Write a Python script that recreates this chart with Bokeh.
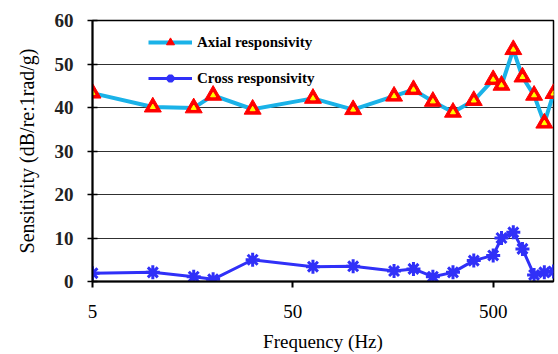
from bokeh.plotting import figure
from bokeh.models import Range1d, FixedTicker, Legend, LegendItem, NumeralTickFormatter
from bokeh.embed import file_html
from bokeh.resources import INLINE

# Data
freq = [5, 10, 16, 20, 31.5, 63, 100, 160, 200, 250, 315, 400, 500, 550, 630, 700, 800, 900, 1000]
axial = [43.3, 40.1, 39.9, 42.8, 39.6, 42.1, 39.5, 42.6, 44.1, 41.4, 38.9, 41.6, 46.4, 45.1, 53.3, 47.0, 42.8, 36.4, 43.2]
cross = [1.9, 2.1, 1.1, 0.5, 5.0, 3.4, 3.5, 2.4, 2.9, 1.1, 2.1, 4.8, 6.0, 10.0, 11.3, 7.5, 1.5, 2.1, 2.3]
x_ticks = [5, 50, 500]
y_ticks = [0, 10, 20, 30, 40, 50, 60]
axial_label = "Axial responsivity"
cross_label = "Cross responsivity"

FONT = "Liberation Serif"

p = figure(width=558, height=354, x_axis_type="log",
           x_range=Range1d(5, 1000), y_range=Range1d(0, 60),
           output_backend="svg", toolbar_location=None,
           min_border_left=92, min_border_right=5, min_border_top=20, min_border_bottom=73)

p.background_fill_color = "white"
p.border_fill_color = "white"
p.outline_line_color = "black"
p.outline_line_width = 1.5

p.xgrid.grid_line_color = None
p.ygrid.grid_line_color = "#303030"
p.ygrid.grid_line_width = 1
p.ygrid.ticker = FixedTicker(ticks=y_ticks)

# x axis
p.xaxis.ticker = FixedTicker(ticks=x_ticks)
p.xaxis.formatter = NumeralTickFormatter(format="0")
p.xaxis.minor_tick_line_color = None
p.xaxis.major_tick_in = 0
p.xaxis.major_tick_out = 6
p.xaxis.major_tick_line_width = 2
p.xaxis.axis_line_width = 2
p.xaxis.major_label_text_font = FONT
p.xaxis.major_label_text_font_size = "19px"
p.xaxis.major_label_text_color = "black"
p.xaxis.major_label_standoff = 17
p.xaxis.axis_label = "Frequency (Hz)"
p.xaxis.axis_label_text_font = FONT
p.xaxis.axis_label_text_font_size = "19px"
p.xaxis.axis_label_text_font_style = "normal"
p.xaxis.axis_label_text_color = "black"
p.xaxis.axis_label_standoff = 10

# y axis
p.yaxis.ticker = FixedTicker(ticks=y_ticks)
p.yaxis.minor_tick_line_color = None
p.yaxis.major_tick_in = 5
p.yaxis.major_tick_out = 5
p.yaxis.major_tick_line_width = 1.5
p.yaxis.axis_line_width = 2
p.yaxis.major_label_text_font = FONT
p.yaxis.major_label_text_font_size = "19px"
p.yaxis.major_label_text_font_style = "bold"
p.yaxis.major_label_text_color = "#222222"
p.yaxis.major_label_standoff = 14
p.yaxis.axis_label = "Sensitivity (dB/re:1rad/g)"
p.yaxis.axis_label_text_font = FONT
p.yaxis.axis_label_text_font_size = "20px"
p.yaxis.axis_label_text_font_style = "normal"
p.yaxis.axis_label_text_color = "black"
p.yaxis.axis_label_standoff = 14

# Axial series
la = p.line(freq, axial, line_color="#1AB2E8", line_width=4)
sa = p.scatter(freq, axial, marker="triangle", size=17, fill_color="#FF0000", line_color="#FF0000", line_width=1)
ia = p.scatter(freq, axial, marker="triangle", size=5, fill_color="#FFFF00", line_color="#FFFF00")

# Cross series
lc = p.line(freq, cross, line_color="#3030F8", line_width=3)
sc = p.scatter(freq, cross, marker="asterisk", size=14, line_color="#3030F8", line_width=3)

legend = Legend(items=[LegendItem(label=axial_label, renderers=[la, sa]),
                       LegendItem(label=cross_label, renderers=[lc, sc])],
                location=(56, 193), orientation="vertical",
                glyph_width=44, glyph_height=20, label_height=20, spacing=16,
                padding=0, margin=0, label_standoff=5,
                border_line_color=None, background_fill_alpha=0,
                label_text_font=FONT, label_text_font_size="15px",
                label_text_font_style="bold", label_text_color="black")
p.add_layout(legend, "center")

open("out.html", "w").write(file_html(p, INLINE))
